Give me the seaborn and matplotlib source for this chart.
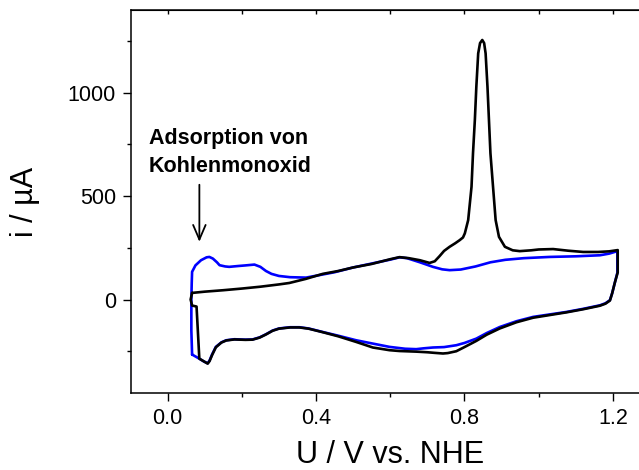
import matplotlib
matplotlib.use("Agg")
import matplotlib.pyplot as plt
from matplotlib.ticker import MultipleLocator, FixedLocator
import seaborn as sns
import pandas as pd

# ---- data ----
# blank CV (blue): closed loop, anodic then cathodic
blank_U = [0.066, 0.064, 0.064, 0.065, 0.066, 0.075, 0.090, 0.105, 0.1125, 0.122, 0.133, 0.140,
           0.155, 0.166, 0.190, 0.210, 0.234, 0.250, 0.265, 0.280, 0.300, 0.330, 0.373, 0.409,
           0.450, 0.500, 0.571, 0.600, 0.625, 0.645, 0.680, 0.715, 0.740, 0.760, 0.790, 0.830,
           0.870, 0.910, 0.960, 1.030, 1.100, 1.165, 1.190, 1.212,
           1.212, 1.205, 1.198, 1.192, 1.180, 1.165, 1.120, 1.075, 1.030, 0.985, 0.940, 0.895,
           0.860, 0.832, 0.800, 0.778, 0.745, 0.715, 0.690, 0.670, 0.640, 0.598, 0.550, 0.508,
           0.460, 0.418, 0.380, 0.355, 0.330, 0.300, 0.283, 0.265, 0.248, 0.229, 0.210, 0.180,
           0.158, 0.145, 0.130, 0.120, 0.113, 0.108, 0.098, 0.0855, 0.066]
blank_i = [-266, -150, 0, 80, 134, 165, 190, 204, 206, 198, 180, 166,
           160, 158, 162, 165, 169, 158, 138, 124, 114, 108, 106, 118,
           132, 155, 182, 193, 204, 200, 180, 158, 146, 142, 145, 160,
           180, 192, 200, 206, 209, 214, 222, 234,
           129, 80, 30, -3, -18, -28, -45, -60, -72, -84, -105, -133,
           -162, -189, -210, -221, -230, -232, -236, -240, -238, -229, -212, -197,
           -175, -157, -140, -134, -134, -140, -150, -168, -183, -193, -194, -192,
           -197, -207, -229, -265, -295, -308, -300, -286, -266]

# CO stripping CV (black)
co_U = [0.066, 0.100, 0.150, 0.200, 0.250, 0.300, 0.328, 0.373, 0.418, 0.460, 0.500, 0.550,
        0.600, 0.625, 0.650, 0.680, 0.706, 0.720, 0.733, 0.745, 0.760, 0.775, 0.787, 0.796,
        0.801, 0.810, 0.819, 0.823, 0.828, 0.832, 0.837, 0.842, 0.848, 0.853, 0.857, 0.862,
        0.866, 0.870, 0.877, 0.884, 0.893, 0.909, 0.930, 0.949, 0.980, 1.000, 1.039, 1.080,
        1.120, 1.160, 1.190, 1.213,
        1.213, 1.205, 1.198, 1.192, 1.180, 1.165, 1.120, 1.075, 1.030, 0.985, 0.940, 0.895,
        0.860, 0.832, 0.800, 0.778, 0.755, 0.742, 0.720, 0.700, 0.670, 0.625, 0.598, 0.553,
        0.508, 0.460, 0.418, 0.380, 0.355, 0.330, 0.300, 0.283, 0.265, 0.248, 0.229, 0.210,
        0.180, 0.158, 0.145, 0.130, 0.120, 0.113, 0.108, 0.0855, 0.078, 0.066, 0.062, 0.066]
co_i = [32, 38, 45, 53, 62, 73, 80, 100, 124, 138, 155, 172,
        195, 205, 200, 190, 177, 185, 210, 235, 255, 272, 287, 300,
        320, 384, 545, 707, 868, 1029, 1190, 1240, 1255, 1240, 1190, 1029,
        868, 707, 545, 384, 303, 255, 238, 234, 238, 242, 244, 236,
        230, 230, 233, 239,
        131, 80, 30, -5, -20, -30, -47, -62, -75, -88, -110, -140,
        -170, -200, -230, -250, -259, -261, -258, -255, -252, -249, -245, -232,
        -205, -178, -158, -141, -135, -135, -141, -151, -169, -184, -194, -195,
        -193, -198, -208, -231, -268, -298, -310, -286, -34, -29, 0, 32]

curve_names = ["Blank", "CO"]
curve_colors = ["#0000ff", "#000000"]

x_major = [0.0, 0.4, 0.8, 1.2]
x_minor = [0.2, 0.6, 1.0]
y_major = [0, 500, 1000]
y_minor = [-250, 250, 750, 1250]

annot_lines = ["Adsorption von", "Kohlenmonoxid"]

# ---- build table ----
df = pd.concat([
    pd.DataFrame({"U": blank_U, "i": blank_i, "curve": curve_names[0]}),
    pd.DataFrame({"U": co_U, "i": co_i, "curve": curve_names[1]}),
], ignore_index=True)

sns.set_style("ticks")
plt.rcParams["font.family"] = ["Liberation Sans", "DejaVu Sans"]
plt.rcParams["text.color"] = "black"
plt.rcParams["axes.labelcolor"] = "black"
plt.rcParams["xtick.color"] = "black"
plt.rcParams["ytick.color"] = "black"
plt.rcParams["axes.edgecolor"] = "black"

fig = plt.figure(figsize=(6.39, 4.70), dpi=100)
ax = fig.add_axes([130.5 / 639, 1 - 393 / 470, (650 - 130.5) / 639, (393 - 10) / 470])

sns.lineplot(data=df, x="U", y="i", hue="curve", hue_order=curve_names,
             palette=dict(zip(curve_names, curve_colors)), sort=False,
             estimator=None, units="curve", linewidth=1.9, legend=False, ax=ax)

ax.set_xlim(-0.1, 1.3)
ax.set_ylim(-452, 1400)

ax.xaxis.set_major_locator(FixedLocator(x_major))
ax.xaxis.set_minor_locator(FixedLocator(x_minor))
ax.yaxis.set_major_locator(FixedLocator(y_major))
ax.yaxis.set_minor_locator(FixedLocator(y_minor))
ax.set_xticklabels([f"{v:.1f}" for v in x_major])
ax.set_yticklabels([str(v) for v in y_major])

ax.tick_params(which="major", direction="out", length=5.5, width=1.0,
               labelsize=15.5, pad=5, color="black", labelcolor="black")
ax.tick_params(which="minor", direction="out", length=3.2, width=1.0, color="black")

sec = ax.secondary_xaxis("top")
sec.xaxis.set_major_locator(MultipleLocator(0.2))
sec.tick_params(direction="in", length=3, width=1.0, labeltop=False, color="black")

ax.spines["right"].set_visible(False)
for s in ax.spines.values():
    s.set_linewidth(1.1)
    s.set_color("black")

ax.set_xlabel("U / V vs. NHE", fontsize=22, labelpad=8)
ax.set_ylabel("i / µA", fontsize=22, labelpad=20)

ax.text(-0.05, 781, annot_lines[0], fontsize=15.5, fontweight="bold", va="center", ha="left")
ax.text(-0.05, 645, annot_lines[1], fontsize=15.5, fontweight="bold", va="center", ha="left")
ax.annotate("", xy=(0.0856, 279), xytext=(0.0856, 555),
            arrowprops=dict(arrowstyle="->,head_length=0.7,head_width=0.3",
                            mutation_scale=15, lw=1.3, color="black",
                            shrinkA=0, shrinkB=0))

fig.savefig("out.png", dpi=100)
